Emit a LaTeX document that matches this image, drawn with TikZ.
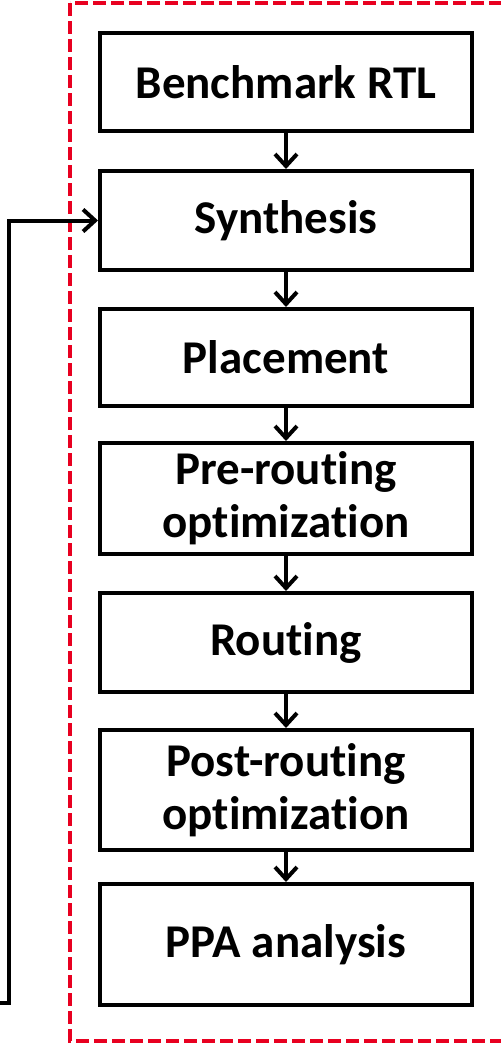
\documentclass[tikz,border=0pt]{standalone}
\usepackage{fontspec}
\setmainfont{Carlito}[Ligatures=NoCommon]
\usepackage{tikz}
\usetikzlibrary{arrows.meta, positioning}
\definecolor{flowRed}{RGB}{232,0,32}

\begin{document}
\begin{tikzpicture}[
    x=0.5pt, y=-0.5pt,
    stage/.style={rectangle, draw, line width=2pt, minimum width=186pt, inner sep=0pt, align=center, font=\fontsize{23.5}{26.5}\selectfont\bfseries},
    frame/.style={draw=flowRed, line width=2pt, dash pattern=on 6.5pt off 2.5pt},
    arrow/.style={-{Straight Barb[length=6pt, width=11pt]}, line width=2pt}
]
    \useasboundingbox (0,0) rectangle (500,1045);

    % Flow boundary
    \draw[frame] (70,3) rectangle (508,1041);

    % Flow stages
    \node[stage, minimum height=49pt] (rtl) at (286,82) {Benchmark RTL};
    \node[stage, minimum height=49.5pt] (syn) at (286,220.5) {Synthesis};
    \node[stage, minimum height=48.5pt] (place) at (286,357.5) {Placement};
    \node[stage, minimum height=55.5pt] (preopt) at (286,498.5) {Pre-routing\\optimization};
    \node[stage, minimum height=49.5pt] (route) at (286,642.5) {Routing};
    \node[stage, minimum height=60pt] (postopt) at (286,790) {Post-routing\\optimization};
    \node[stage, minimum height=60.5pt] (ppa) at (286,944.5) {PPA analysis};

    % Arrows
    \draw[arrow] (rtl) -- (syn);
    \draw[arrow] (syn) -- (place);
    \draw[arrow] (place) -- (preopt);
    \draw[arrow] (preopt) -- (route);
    \draw[arrow] (route) -- (postopt);
    \draw[arrow] (postopt) -- (ppa);

    % Feedback into synthesis
    \coordinate (loopin) at (-5,1003);
    \coordinate (loopturn) at (9,1003);
    \draw[arrow] (loopin) -- (loopturn) |- (syn.west);
\end{tikzpicture}
\end{document}
